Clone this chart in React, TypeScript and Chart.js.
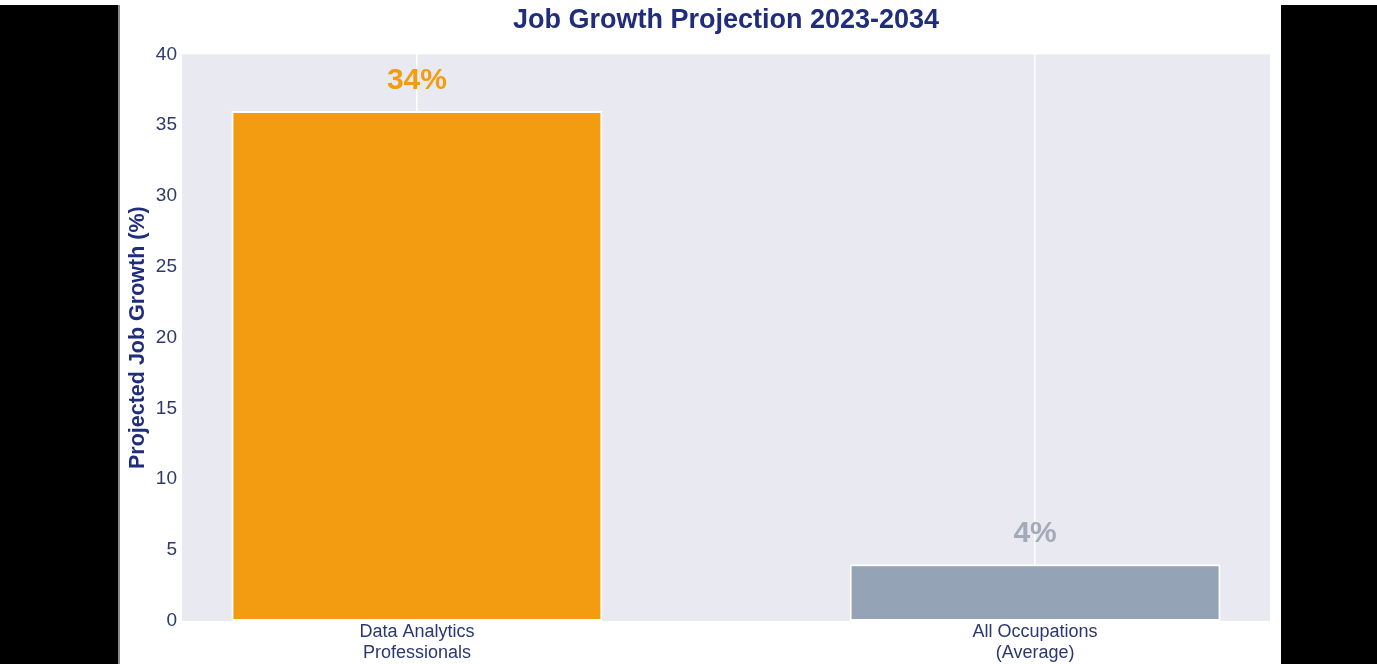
import React, { useEffect, useRef } from "react";
import { Chart, registerables } from "chart.js";

Chart.register(...registerables);

const categories: string[][] = [
  ["Data Analytics", "Professionals"],
  ["All Occupations", "(Average)"],
];
const growthValues: number[] = [36, 4];
const valueLabels: string[] = ["34%", "4%"];
const barColors: string[] = ["#f39c12", "#95a3b6"];
const labelColors: string[] = ["#f39c12", "#a3abb9"];
const yTicks: number[] = [0, 5, 10, 15, 20, 25, 30, 35, 40];

const FONT = "'Liberation Sans', Arial, Helvetica, sans-serif";

const plotBgPlugin = {
  id: "plotBg",
  beforeDraw(chart: any) {
    const { ctx, chartArea } = chart;
    if (!chartArea) return;
    ctx.save();
    ctx.fillStyle = "#e8e9f1";
    ctx.fillRect(chartArea.left, chartArea.top, chartArea.right - chartArea.left, chartArea.bottom - chartArea.top);
    ctx.restore();
  },
};

const valueLabelPlugin = {
  id: "valueLabels",
  afterDatasetsDraw(chart: any) {
    const { ctx } = chart;
    const meta = chart.getDatasetMeta(0);
    ctx.save();
    ctx.font = `bold 30px ${FONT}`;
    ctx.textAlign = "center";
    ctx.textBaseline = "alphabetic";
    meta.data.forEach((el: any, i: number) => {
      ctx.fillStyle = labelColors[i];
      ctx.fillText(valueLabels[i], el.x, el.y - 22);
    });
    ctx.restore();
  },
};

export default function App() {
  const canvasRef = useRef<HTMLCanvasElement | null>(null);

  useEffect(() => {
    if (!canvasRef.current) return;
    const chart = new Chart(canvasRef.current, {
      type: "bar",
      data: {
        datasets: [
          {
            data: growthValues.map((v, i) => ({ x: i, y: v })),
            backgroundColor: barColors,
            borderColor: "#ffffff",
            borderWidth: 2,
            borderSkipped: false,
            categoryPercentage: 1,
            barPercentage: 0.6,
          },
        ],
      },
      options: {
        animation: false,
        responsive: true,
        maintainAspectRatio: false,
        layout: { padding: { left: 0, right: 11, top: 0, bottom: 0 } },
        plugins: {
          legend: { display: false },
          tooltip: { enabled: false },
          title: {
            display: true,
            text: "Job Growth Projection 2023-2034",
            color: "#1f2d7a",
            font: { family: FONT, size: 27, weight: "bold", lineHeight: 1.2 },
            padding: { top: 4, bottom: 18 },
            fullSize: false,
          },
        },
        scales: {
          x: {
            type: "linear",
            min: -0.38,
            max: 1.38,
            offset: false,
            afterBuildTicks(scale: any) {
              scale.ticks = categories.map((_, i) => ({ value: i }));
            },
            ticks: {
              autoSkip: false,
              maxRotation: 0,
              minRotation: 0,
              padding: 0.5,
              color: "#2b3770",
              font: { family: FONT, size: 18, lineHeight: 1.17 },
              callback: (value: any) => categories[Math.round(Number(value))] ?? "",
            },
            grid: { display: true, offset: false, color: "#ffffff", lineWidth: 1.5, drawTicks: false },
            border: { display: false },
          },
          y: {
            min: 0,
            max: 40,
            afterBuildTicks(scale: any) {
              scale.ticks = yTicks.map((v) => ({ value: v }));
            },
            afterFit(scale: any) {
              scale.width = 62;
            },
            ticks: {
              padding: 5,
              color: "#2e3a6a",
              font: { family: FONT, size: 19 },
            },
            grid: { display: false, drawTicks: false },
            border: { display: false },
            title: {
              display: true,
              text: "Projected Job Growth (%)",
              color: "#1f2d7a",
              font: { family: FONT, size: 21.5, weight: "bold", lineHeight: 1.2 },
              padding: { top: 5, bottom: 0 },
            },
          },
        },
      },
      plugins: [plotBgPlugin, valueLabelPlugin],
    });
    return () => chart.destroy();
  }, []);

  return (
    <div style={{ position: "fixed", left: 0, top: 0, width: 1377, height: 664, background: "#ffffff", overflow: "hidden" }}>
      <div style={{ position: "absolute", left: 0, top: 5, width: 118, height: 659, background: "#000000", borderRight: "2px solid #8a8a8a" }} />
      <div style={{ position: "absolute", left: 1281, top: 5, width: 96, height: 659, background: "#000000" }} />
      <div style={{ position: "absolute", left: 120, top: 0, width: 1161, height: 664 }}>
        <canvas ref={canvasRef} />
      </div>
    </div>
  );
}
